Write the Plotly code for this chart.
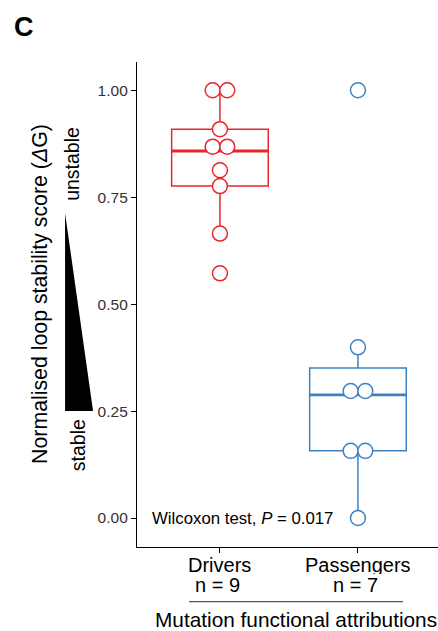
import plotly.graph_objects as go
from collections import Counter

categories = ["Drivers", "Passengers"]
counts = [9, 7]
colors = ["#E8262B", "#3E82C4"]

drivers_values = [1.00, 1.00, 0.909, 0.868, 0.868, 0.813, 0.776, 0.665, 0.572]
passengers_values = [1.00, 0.399, 0.297, 0.297, 0.157, 0.157, 0.00]

# box statistics: lower whisker, Q1, median, Q3, upper whisker
box_lower = [0.665, 0.00]
box_q1 = [0.776, 0.157]
box_median = [0.858, 0.288]
box_q3 = [0.909, 0.351]
box_upper = [1.00, 0.399]

y_ticks = [0.00, 0.25, 0.50, 0.75, 1.00]
x_title = "Mutation functional attributions"
y_title = "Normalised loop stability score (<i>Δ</i>G)"
stat_text = "Wilcoxon test, <i>P</i> = 0.017"

BOX_W = 0.70
DOT_STEP = 0.106

fig = go.Figure()
series = [drivers_values, passengers_values]
for i, cat in enumerate(categories):
    fig.add_trace(go.Box(
        x=[i], q1=[box_q1[i]], median=[box_median[i]], q3=[box_q3[i]],
        lowerfence=[box_lower[i]], upperfence=[box_upper[i]],
        width=BOX_W, whiskerwidth=0, fillcolor="rgba(255,255,255,0)",
        line=dict(color=colors[i], width=1.5), boxpoints=False,
        showlegend=False, hoverinfo="skip"))
    fig.add_trace(go.Scatter(
        x=[i - BOX_W / 2, i + BOX_W / 2], y=[box_median[i]] * 2, mode="lines",
        line=dict(color=colors[i], width=2.8), showlegend=False, hoverinfo="skip"))

for i, vals in enumerate(series):
    cnt = Counter(vals)
    seen = Counter()
    xs = []
    for v in vals:
        n = cnt[v]
        k = seen[v]
        seen[v] += 1
        xs.append(i + (k - (n - 1) / 2) * DOT_STEP)
    fig.add_trace(go.Scatter(
        x=xs, y=vals, mode="markers",
        marker=dict(symbol="circle", size=15, color="white",
                    line=dict(color=colors[i], width=1.5)),
        showlegend=False))

font = "Liberation Sans, Arial, sans-serif"
fig.update_layout(
    width=438, height=631,
    margin=dict(l=137, r=0, t=62, b=84),
    paper_bgcolor="white", plot_bgcolor="white",
    font=dict(family=font, color="black"),
    xaxis=dict(range=[-0.601, 1.58], tickvals=[0, 1], ticktext=["", ""],
               showline=True, linecolor="black", linewidth=1.3,
               ticks="outside", ticklen=5, tickcolor="black", tickwidth=1.2,
               showgrid=False, zeroline=False),
    yaxis=dict(range=[-0.0677, 1.066], tickvals=y_ticks,
               ticktext=[f"{v:.2f}" for v in y_ticks],
               showline=True, linecolor="black", linewidth=1.3,
               ticks="outside", ticklen=5, tickcolor="black", tickwidth=1.2,
               tickfont=dict(size=15.5, color="#333333"),
               showgrid=False, zeroline=False),
)

# category labels with counts
for i, (c, n) in enumerate(zip(categories, counts)):
    fig.add_annotation(text=c, xref="x", yref="paper", x=i, y=-0.0365,
                       showarrow=False, font=dict(size=20, color="black"),
                       height=19, borderpad=0,
                       xanchor="center", yanchor="middle")
    fig.add_annotation(text=f"n = {n}", xref="x", yref="paper", x=i - 0.02, y=-0.0765,
                       showarrow=False, font=dict(size=20, color="black"),
                       height=19, borderpad=0,
                       xanchor="center", yanchor="middle")

# stability triangle
fig.add_shape(type="path", xref="paper", yref="y",
              path="M -0.239 0.713 L -0.239 0.25 L -0.146 0.25 Z",
              fillcolor="black", line=dict(width=0))
# underline between n labels and x title
fig.add_shape(type="line", xref="paper", yref="paper",
              x0=0.173, x1=0.884, y0=-0.1127, y1=-0.1127,
              line=dict(color="#555555", width=1.3))

fig.add_annotation(text=x_title, xref="paper", yref="paper", x=0.528, y=-0.150,
                   showarrow=False, font=dict(size=20.8, color="black"),
                   xanchor="center", yanchor="middle")
fig.add_annotation(text=y_title, xref="paper", yref="paper", x=-0.322, y=0.522,
                   showarrow=False, textangle=-90, font=dict(size=21.3, color="black"),
                   xanchor="center", yanchor="middle")
fig.add_annotation(text="unstable", xref="paper", yref="paper", x=-0.216, y=0.79,
                   showarrow=False, textangle=-90, font=dict(size=19.5, color="black"),
                   xanchor="center", yanchor="middle")
fig.add_annotation(text="stable", xref="paper", yref="paper", x=-0.196, y=0.21,
                   showarrow=False, textangle=-90, font=dict(size=19.5, color="black"),
                   xanchor="center", yanchor="middle")
fig.add_annotation(text=stat_text, xref="paper", yref="y", x=0.043, y=0.0,
                   showarrow=False, font=dict(size=16.8, color="black"),
                   xanchor="left", yanchor="middle")
fig.add_annotation(text="<b>C</b>", xref="paper", yref="paper", x=-0.375, y=1.073,
                   showarrow=False, font=dict(size=27, color="black"),
                   xanchor="center", yanchor="middle")

fig.write_html("out.html")
